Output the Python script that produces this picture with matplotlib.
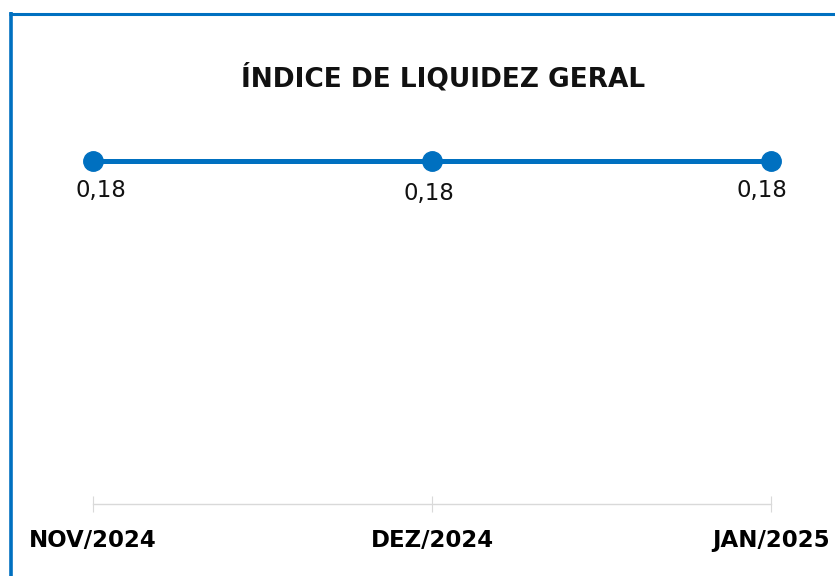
"""
Índice de liquidez geral - line chart.
"""
import matplotlib.pyplot as plt
from matplotlib.lines import Line2D

months = ['NOV/2024', 'DEZ/2024', 'JAN/2025']
values = [0.18, 0.18, 0.18]

blue = '#0070C0'

fig = plt.figure(figsize=(8.35, 5.76), dpi=100)
fig.patch.set_facecolor('white')

# Blue frame on left and top edges.
fig.add_artist(Line2D([11 / 835, 11 / 835], [0, 1 - 12 / 576],
                      transform=fig.transFigure, color=blue, lw=2.6,
                      solid_capstyle='butt'))
fig.add_artist(Line2D([9 / 835, 1], [1 - 13.5 / 576, 1 - 13.5 / 576],
                      transform=fig.transFigure, color=blue, lw=2.2,
                      solid_capstyle='butt'))

ax = fig.add_axes([93 / 835, 72 / 576, (771 - 93) / 835, (504 - 161) / 576])
x = list(range(len(months)))
ax.plot(x, values, color=blue, lw=3.6, marker='o', markersize=14,
        clip_on=False, zorder=3)

# Data labels below points.
offsets = [(5.8, -21), (-2.2, -23.5), (-6.5, -21)]
for xi, v, off in zip(x, values, offsets):
    ax.annotate(f'{v:.2f}'.replace('.', ','), (xi, v), xytext=off,
                textcoords='offset points', ha='center', va='center',
                fontsize=16.5, color='#111111')

ax.set_xlim(0, len(months) - 1)
ax.set_ylim(0, 0.18)
ax.set_xticks(x)
ax.set_xticklabels(months, fontsize=16.5, fontweight='bold')
ax.tick_params(axis='x', direction='inout', length=12, color='#D9D9D9',
               pad=12)
ax.set_yticks([])
for s in ['top', 'right', 'left']:
    ax.spines[s].set_visible(False)
ax.spines['bottom'].set_color('#D9D9D9')
ax.spines['bottom'].set_linewidth(1)

fig.text(443 / 835, 1 - 78 / 576, 'ÍNDICE DE LIQUIDEZ GERAL', ha='center',
         va='center', fontsize=19, fontweight='bold', color='#111111')

fig.savefig('out.png', dpi=100, facecolor='white')
